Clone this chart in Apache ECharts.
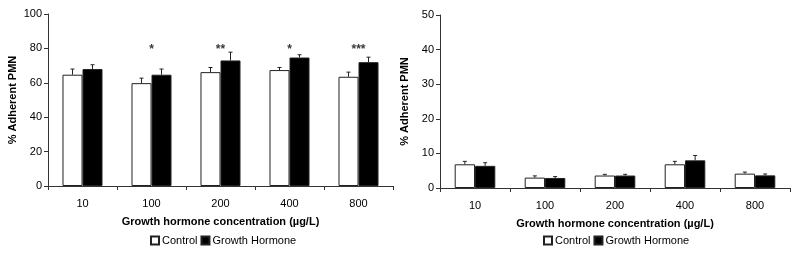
<!DOCTYPE html>
<html>
<head>
<meta charset="utf-8">
<script src="https://cdn.jsdelivr.net/npm/echarts@6/dist/echarts.min.js"></script>
<style>
  html, body { margin: 0; padding: 0; background: #fff; }
  #chart { width: 800px; height: 257px; }
</style>
</head>
<body>
<div id="chart"></div>
<script>
var categories = ['10', '100', '200', '400', '800'];

// left panel
var controlA = [64.7, 59.8, 66.2, 67.4, 63.5];
var controlAErr = [68.0, 62.7, 68.9, 68.9, 66.2];
var ghA = [68.0, 64.7, 73.0, 74.7, 72.0];
var ghAErr = [70.5, 68.0, 77.8, 76.3, 74.9];
var starsA = ['', '*', '**', '*', '***'];

// right panel
var controlB = [6.85, 3.0, 3.6, 6.85, 4.15];
var controlBErr = [7.7, 3.5, 3.95, 7.7, 4.6];
var ghB = [6.4, 2.9, 3.6, 8.0, 3.65];
var ghBErr = [7.3, 3.3, 3.95, 9.4, 4.05];

var font = 'Liberation Sans, Arial, sans-serif';
var barFrac = 0.29;

function errSeries(xi, yi, means, tops, side) {
  return {
    type: 'custom',
    xAxisIndex: xi,
    yAxisIndex: yi,
    silent: true,
    z: 5,
    data: means.map(function (m, i) { return [i, m, tops[i]]; }),
    renderItem: function (params, api) {
      var bw = api.size([1, 0])[0] * barFrac;
      var base = api.coord([api.value(0), api.value(1)]);
      var top = api.coord([api.value(0), api.value(2)]);
      var x = base[0] + side * bw / 2;
      var st = { stroke: '#222', lineWidth: 1 };
      return {
        type: 'group',
        children: [
          { type: 'line', shape: { x1: x, y1: base[1], x2: x, y2: top[1] }, style: st },
          { type: 'line', shape: { x1: x - 2, y1: top[1], x2: x + 2, y2: top[1] }, style: st }
        ]
      };
    }
  };
}

function xAx(gi) {
  return {
    type: 'category',
    gridIndex: gi,
    data: categories,
    name: 'Growth hormone concentration (\u00b5g/L)',
    nameLocation: 'middle',
    nameGap: 30,
    nameTextStyle: { fontFamily: font, fontSize: 11, fontWeight: 'bold', color: '#000' },
    axisLine: { lineStyle: { color: '#333', width: 1 } },
    axisTick: { show: true, length: 4, lineStyle: { color: '#333' } },
    axisLabel: { fontFamily: font, fontSize: 11, color: '#000', margin: 12 }
  };
}

function yAx(gi, max, step) {
  return {
    type: 'value',
    gridIndex: gi,
    min: 0,
    max: max,
    interval: step,
    name: '% Adherent PMN',
    nameLocation: 'middle',
    nameGap: 30,
    nameTextStyle: { fontFamily: font, fontSize: 11, fontWeight: 'bold', color: '#000' },
    axisLine: { show: true, lineStyle: { color: '#333', width: 1 } },
    axisTick: { show: true, length: 4, lineStyle: { color: '#333' } },
    axisLabel: { fontFamily: font, fontSize: 11, color: '#000', margin: 6 },
    splitLine: { show: false }
  };
}

function bars(name, xi, yi, data, fill) {
  return {
    name: name,
    type: 'bar',
    xAxisIndex: xi,
    yAxisIndex: yi,
    data: data,
    barWidth: (barFrac * 100) + '%',
    barGap: '0%',
    itemStyle: { color: fill, borderColor: '#222', borderWidth: 1 }
  };
}

function leg(left) {
  return {
    data: ['Control', 'Growth Hormone'],
    left: left,
    top: 230,
    itemWidth: 8,
    itemHeight: 8,
    itemGap: 3,
    icon: 'rect',
    selectedMode: false,
    textStyle: { fontFamily: font, fontSize: 11, color: '#000', padding: [0, 0, 0, -2] }
  };
}

var chart = echarts.init(document.getElementById('chart'));
chart.setOption({
  animation: false,
  backgroundColor: '#fff',
  grid: [
    { left: 48, right: 407, top: 14, bottom: 71 },
    { left: 440, right: 10, top: 15, bottom: 69 }
  ],
  legend: [leg(145), leg(538)],
  xAxis: [xAx(0), xAx(1)],
  yAxis: [yAx(0, 100, 20), yAx(1, 50, 10)],
  series: [
    bars('Control', 0, 0, controlA, '#fff'),
    bars('Growth Hormone', 0, 0, ghA, '#000'),
    bars('Control', 1, 1, controlB, '#fff'),
    bars('Growth Hormone', 1, 1, ghB, '#000'),
    errSeries(0, 0, controlA, controlAErr, -1),
    errSeries(0, 0, ghA, ghAErr, 1),
    errSeries(1, 1, controlB, controlBErr, -1),
    errSeries(1, 1, ghB, ghBErr, 1),
    {
      type: 'scatter',
      xAxisIndex: 0,
      yAxisIndex: 0,
      symbolSize: 0,
      silent: true,
      data: starsA.map(function (s, i) { return [i, 79]; }),
      label: {
        show: true,
        position: 'inside',
        formatter: function (p) { return starsA[p.dataIndex]; },
        fontFamily: font,
        fontSize: 12,
        fontWeight: 'bold',
        color: '#000'
      }
    }
  ]
});
</script>
</body>
</html>
